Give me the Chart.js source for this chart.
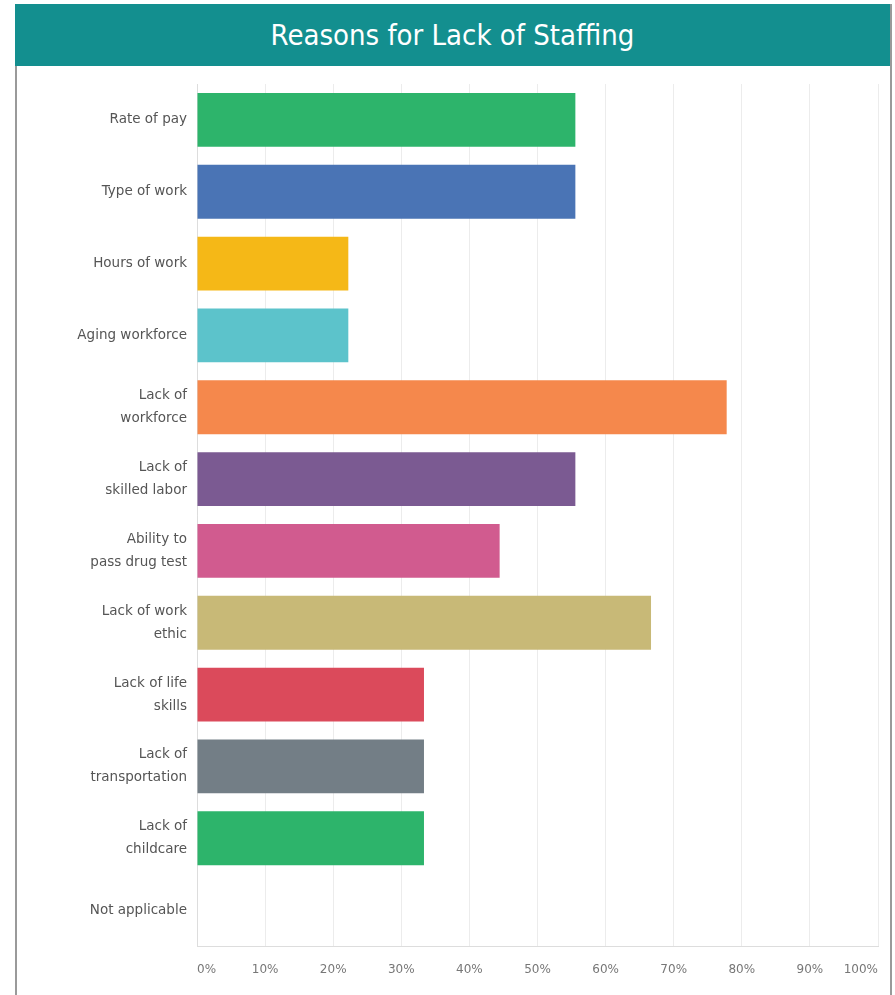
<!DOCTYPE html>
<html>
<head>
<meta charset="utf-8">
<script src="https://cdn.jsdelivr.net/npm/chart.js@4/dist/chart.umd.min.js"></script>
<style>
  body { margin: 0; background: #fff; }
  .frame { position: absolute; left: 15px; top: 4px; width: 873px; height: 991px; border-left: 2px solid #9a9a9a; border-right: 2px solid #9a9a9a; box-sizing: content-box; }
  .banner { position: absolute; left: 15px; top: 4px; width: 875px; height: 62px; background: #138f8f; color: #fff;
    font-family: "Liberation Sans Narrow", "DejaVu Sans Condensed", sans-serif; font-size: 29px; text-align: center; line-height: 62px; }
  .wrap { position: absolute; left: 0; top: 0; width: 895px; height: 995px; }
</style>
</head>
<body>
<div class="frame"></div>
<div class="banner">Reasons for Lack of Staffing</div>
<div class="wrap"><canvas id="staffing" width="895" height="995"></canvas></div>
<script>
const reasons = [
  'Rate of pay',
  'Type of work',
  'Hours of work',
  'Aging workforce',
  ['Lack of', 'workforce'],
  ['Lack of', 'skilled labor'],
  ['Ability to', 'pass drug test'],
  ['Lack of work', 'ethic'],
  ['Lack of life', 'skills'],
  ['Lack of', 'transportation'],
  ['Lack of', 'childcare'],
  'Not applicable'
];
const percentages = [55.56, 55.56, 22.22, 22.22, 77.78, 55.56, 44.44, 66.67, 33.33, 33.33, 33.33, 0];
const barColors = ['#2db46b', '#4a74b5', '#f5b817', '#5cc3cb', '#f5884c', '#7b5a92', '#d15b8f', '#c8b977', '#db4a5b', '#737e86', '#2db46b', '#cccccc'];
const tickValues = [0, 10, 20, 30, 40, 50, 60, 70, 80, 90, 100];

const ctx = document.getElementById('staffing');

new Chart(ctx, {
  type: 'bar',
  data: {
    labels: reasons,
    datasets: [{
      data: percentages,
      backgroundColor: barColors,
      borderWidth: 0,
      barPercentage: 0.75,
      categoryPercentage: 1
    }]
  },
  options: {
    indexAxis: 'y',
    responsive: false,
    animation: false,
    layout: { padding: { top: 84, right: 15, left: 0, bottom: 0 } },
    plugins: {
      legend: { display: false },
      tooltip: { enabled: false }
    },
    scales: {
      x: {
        min: 0,
        max: 100,
        afterBuildTicks: function (scale) {
          scale.ticks = tickValues.map(v => ({ value: v }));
        },
        afterFit: function (scale) {
          scale.height = 49;
        },
        grid: { color: '#ececec', drawTicks: false },
        border: { display: true, color: '#dddddd' },
        ticks: {
          align: 'inner',
          padding: 17,
          color: '#777',
          font: { family: 'DejaVu Sans', size: 12 },
          callback: function (value) {
            return value + '%';
          }
        }
      },
      y: {
        afterFit: function (scale) {
          scale.width = 197;
        },
        grid: { display: false, drawTicks: false },
        border: { display: true, color: '#dddddd' },
        ticks: {
          padding: 10,
          color: '#555',
          font: { family: 'DejaVu Sans', size: 13.5, lineHeight: 1.7 }
        }
      }
    }
  }
});
</script>
</body>
</html>
